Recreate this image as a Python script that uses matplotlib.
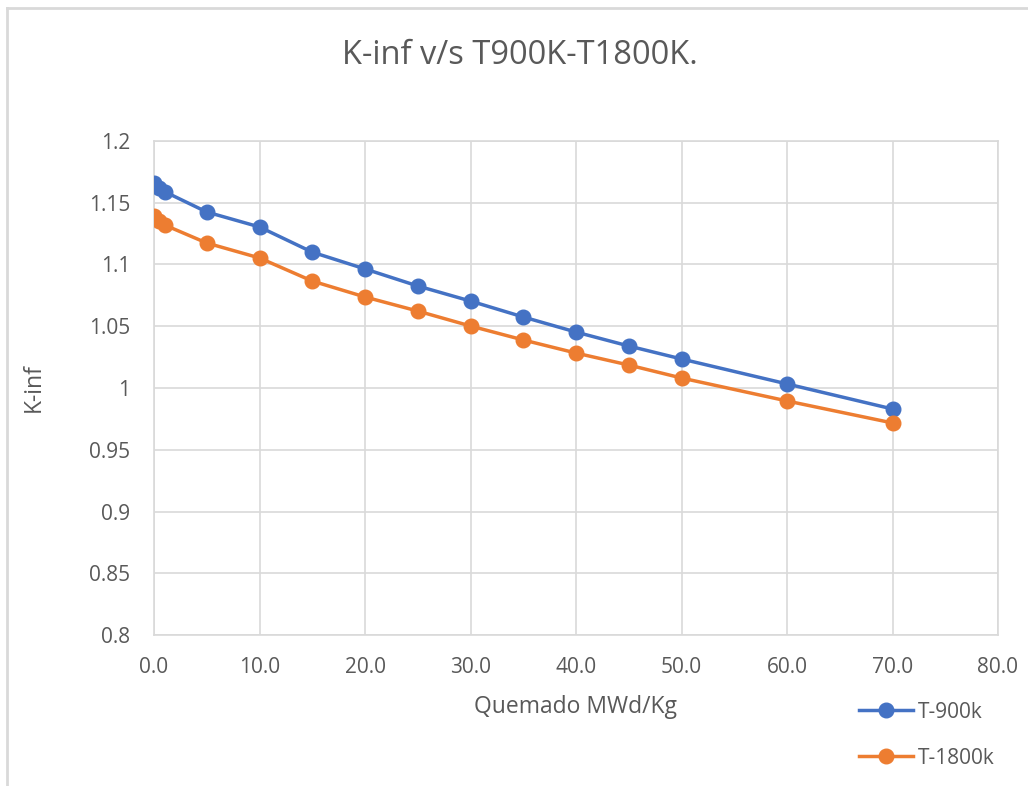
import numpy as np
import matplotlib
matplotlib.use("Agg")
import matplotlib.pyplot as plt
from matplotlib.lines import Line2D

# --- données ---
quemado = [0.0, 0.5, 1.0, 5, 10, 15, 20, 25, 30, 35, 40, 45, 50, 60, 70]
kinf_900 = [1.166, 1.162, 1.159, 1.1425, 1.1304, 1.110, 1.0964, 1.0826, 1.0704,
            1.0575, 1.0453, 1.034, 1.0235, 1.0033, 0.983]
kinf_1800 = [1.1393, 1.1352, 1.132, 1.1174, 1.1053, 1.0866, 1.0737, 1.0623, 1.0502,
             1.0389, 1.0283, 1.0186, 1.0081, 0.9895, 0.9717]
x_ticks = [0, 10, 20, 30, 40, 50, 60, 70, 80]
y_ticks = [0.8, 0.85, 0.9, 0.95, 1.0, 1.05, 1.1, 1.15, 1.2]
y_labels = ["0.8", "0.85", "0.9", "0.95", "1", "1.05", "1.1", "1.15", "1.2"]

plt.rcParams['font.family'] = ['Open Sans', 'DejaVu Sans']
GRIS_TXT = "#595959"
GRIS_GRILLE = "#d9d9d9"

fig = plt.figure(figsize=(10.28, 7.86), dpi=100)
ax = fig.add_axes([154 / 1028, 1 - 635 / 786, (998 - 154) / 1028, (635 - 141) / 786])

# bordure du graphique (style Excel)
fig.add_artist(Line2D([7 / 1028, 1.0], [1 - 8 / 786, 1 - 8 / 786], transform=fig.transFigure,
                      color=GRIS_GRILLE, lw=2))
fig.add_artist(Line2D([7 / 1028, 7 / 1028], [0.0, 1 - 8 / 786], transform=fig.transFigure,
                      color=GRIS_GRILLE, lw=2))

ax.plot(quemado, kinf_900, color="#4472c4", lw=2.5, marker="o", markersize=10.5, label="T-900k", zorder=3)
ax.plot(quemado, kinf_1800, color="#ed7d31", lw=2.5, marker="o", markersize=10.5, label="T-1800k", zorder=3)

ax.set_xlim(0, 80)
ax.set_ylim(0.8, 1.2)
ax.set_xticks(x_ticks)
ax.set_xticklabels([f"{v:.1f}" for v in x_ticks])
ax.set_yticks(y_ticks)
ax.set_yticklabels(y_labels)
ax.grid(True, color=GRIS_GRILLE, lw=1.2)
ax.set_axisbelow(True)
for s in ax.spines.values():
    s.set_color(GRIS_GRILLE)
    s.set_linewidth(1.2)
ax.tick_params(length=0, labelsize=15, colors=GRIS_TXT)
ax.tick_params(axis="x", pad=16)
ax.tick_params(axis="y", pad=17)

ax.set_xlabel("Quemado MWd/Kg", fontsize=16.5, color=GRIS_TXT, labelpad=12)
fig.text(34 / 1028, 1 - 388 / 786, "K-inf", fontsize=16.5, color=GRIS_TXT,
         rotation=90, ha="center", va="center")
fig.text(520 / 1028, 1 - 55 / 786, "K-inf v/s T900K-T1800K.", fontsize=23.5,
         color=GRIS_TXT, ha="center", va="center")

ax.legend(loc="center left", bbox_to_anchor=(840 / 1028, 1 - 735 / 786), bbox_transform=fig.transFigure,
          frameon=False, fontsize=15, labelcolor=GRIS_TXT, handlelength=2.6, labelspacing=1.2,
          handletextpad=0.25)

fig.savefig("out.png", dpi=100)
